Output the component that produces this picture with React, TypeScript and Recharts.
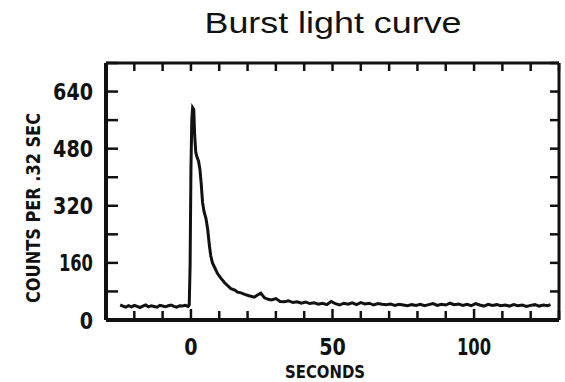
import { LineChart, Line, XAxis, YAxis } from "recharts";

// Burst light curve, counts per 0.32 s bin vs. seconds from trigger
const seconds = [
  -25, -24, -23, -22, -21, -20, -19, -18, -17, -16, -15, -14, -13, -12, -11, -10,
  -9, -8, -7, -6, -5, -4, -3, -2, -1, -0.6, -0.3, 0, 0.3, 0.6, 1.0, 1.3, 1.7, 2.2,
  2.7, 3.2, 3.6, 4.1, 4.6, 5.3, 5.9, 6.5, 7.0, 7.6, 8.5, 9.4, 10.5, 11.8, 13.0,
  14.1, 15.5, 16.5, 17.7, 19, 20.5, 22.4, 23.5, 24.7, 26, 27.3, 28.5, 30, 31.5,
  33, 34.5, 36, 37.5, 39, 40.5, 42, 43.5, 45, 46.5, 48, 49.5, 51, 52.5, 54, 55.5,
  57, 58.5, 60, 61.5, 63, 64.5, 66, 67.5, 69, 70.5, 72, 73.5, 75, 76.5, 78, 79.5,
  81, 82.5, 84, 85.5, 87, 88.5, 90, 91.5, 93, 94.5, 96, 97.5, 99, 100.5, 102,
  103.5, 105, 106.5, 108, 109.5, 111, 112.5, 114, 115.5, 117, 118.5, 120, 121.5,
  123, 124.5, 126, 127,
];
const counts = [
  42, 39, 36, 40, 37, 41, 38, 35, 39, 42, 37, 40, 38, 36, 41, 39, 37, 40, 42, 38,
  36, 40, 39, 41, 38, 42, 150, 420, 560, 595, 590, 520, 470, 455, 445, 420, 385,
  330, 305, 285, 255, 210, 180, 160, 145, 130, 118, 105, 96, 88, 84, 78, 76, 72,
  68, 64, 70, 75, 62, 58, 56, 60, 52, 51, 54, 49, 51, 47, 50, 46, 48, 44, 47, 43,
  52, 46, 42, 47, 44, 48, 43, 49, 45, 47, 42, 46, 44, 43, 45, 41, 44, 42, 40, 43,
  41, 44, 40, 43, 46, 41, 44, 42, 47, 43, 45, 41, 44, 40, 46, 42, 39, 44, 41, 43,
  40, 42, 39, 43, 40, 42, 38, 41, 43, 39, 42, 40, 43,
];

const xTicks = [-30, -20, -10, 0, 10, 20, 30, 40, 50, 60, 70, 80, 90, 100, 110, 120, 130];
const xLabels = [0, 50, 100];
const yTicks = [0, 80, 160, 240, 320, 400, 480, 560, 640, 720];
const yLabels = [0, 160, 320, 480, 640];

const data = seconds.map((t, i) => ({ t, c: counts[i] }));

const labelFont = "'DejaVu Sans Condensed', 'DejaVu Sans', sans-serif";
const ink = "#111";

// the old typewriter digits are narrow, the "1" even more so
const labelWidth = (v: number) =>
  String(v)
    .split("")
    .reduce((w, ch) => w + (ch === "1" ? 7.5 : 13.3), 0);

function BottomTick({ x, y, payload }: any) {
  const v = payload.value;
  const major = xLabels.includes(v);
  return (
    <g>
      <line x1={x} x2={x} y1={y} y2={y - (major ? 11 : 9)} stroke={ink} strokeWidth={2.5} />
      {major && (
        <text
          x={x}
          y={y + 35}
          textAnchor="middle"
          fontFamily={labelFont}
          fontWeight="bold"
          fontSize={23}
          fill={ink}
          textLength={labelWidth(v)}
          lengthAdjust="spacingAndGlyphs"
        >
          {v}
        </text>
      )}
    </g>
  );
}

function TopTick({ x, y }: any) {
  return <line x1={x} x2={x} y1={y} y2={y + 8} stroke={ink} strokeWidth={2.5} />;
}

function LeftTick({ x, y, payload }: any) {
  const v = payload.value;
  return (
    <g>
      <line x1={x} x2={x + 12} y1={y} y2={y} stroke={ink} strokeWidth={2.5} />
      {yLabels.includes(v) && (
        <text
          x={x - 13}
          y={y + 8.5}
          textAnchor="end"
          fontFamily={labelFont}
          fontWeight="bold"
          fontSize={23}
          fill={ink}
          textLength={labelWidth(v)}
          lengthAdjust="spacingAndGlyphs"
        >
          {v}
        </text>
      )}
    </g>
  );
}

function RightTick({ x, y }: any) {
  return <line x1={x} x2={x - 9} y1={y} y2={y} stroke={ink} strokeWidth={2.5} />;
}

export default function App() {
  return (
    <div style={{ position: "absolute", left: 0, top: 0, width: 565, height: 382, background: "#fff" }}>
      <LineChart width={565} height={382} data={data} margin={{ top: 62, right: 5, bottom: 61, left: 105 }}>
        <XAxis
          dataKey="t"
          type="number"
          domain={[-30, 130]}
          ticks={xTicks}
          interval={0}
          height={1}
          tickSize={0}
          tickMargin={0}
          tickLine={false}
          axisLine={{ stroke: ink, strokeWidth: 4 }}
          tick={<BottomTick />}
          allowDataOverflow
        />
        <XAxis
          xAxisId="top"
          orientation="top"
          dataKey="t"
          type="number"
          domain={[-30, 130]}
          ticks={xTicks}
          interval={0}
          height={1}
          tickSize={0}
          tickMargin={0}
          tickLine={false}
          axisLine={{ stroke: ink, strokeWidth: 3 }}
          tick={<TopTick />}
          allowDataOverflow
        />
        <YAxis
          type="number"
          domain={[0, 720]}
          ticks={yTicks}
          interval={0}
          width={1}
          tickSize={0}
          tickMargin={0}
          tickLine={false}
          axisLine={{ stroke: ink, strokeWidth: 4 }}
          tick={<LeftTick />}
          allowDataOverflow
        />
        <YAxis
          yAxisId="right"
          orientation="right"
          type="number"
          domain={[0, 720]}
          ticks={yTicks}
          interval={0}
          width={1}
          tickSize={0}
          tickMargin={0}
          tickLine={false}
          axisLine={{ stroke: ink, strokeWidth: 3 }}
          tick={<RightTick />}
          allowDataOverflow
        />
        <Line
          dataKey="c"
          type="linear"
          stroke={ink}
          strokeWidth={3}
          dot={false}
          isAnimationActive={false}
        />
        <Line
          xAxisId="top"
          yAxisId="right"
          dataKey="c"
          stroke="none"
          dot={false}
          legendType="none"
          isAnimationActive={false}
        />
      </LineChart>
      <svg width={565} height={382} style={{ position: "absolute", left: 0, top: 0, pointerEvents: "none" }}>
        <text x={333} y={33} textAnchor="middle" fontFamily="'Liberation Sans', Arial, sans-serif" fontSize={30} fill={ink} textLength={257} lengthAdjust="spacingAndGlyphs">
          Burst light curve
        </text>
        <text
          x={39.5}
          y={208}
          transform="rotate(-90 39.5 208)"
          textAnchor="middle"
          fontFamily={labelFont}
          fontWeight="bold"
          fontSize={20}
          fill={ink}
          textLength={190}
          lengthAdjust="spacingAndGlyphs"
        >
          COUNTS PER .32 SEC
        </text>
        <text x={325} y={378} textAnchor="middle" fontFamily={labelFont} fontWeight="bold" fontSize={18} fill={ink} textLength={80} lengthAdjust="spacingAndGlyphs">
          SECONDS
        </text>
      </svg>
    </div>
  );
}
